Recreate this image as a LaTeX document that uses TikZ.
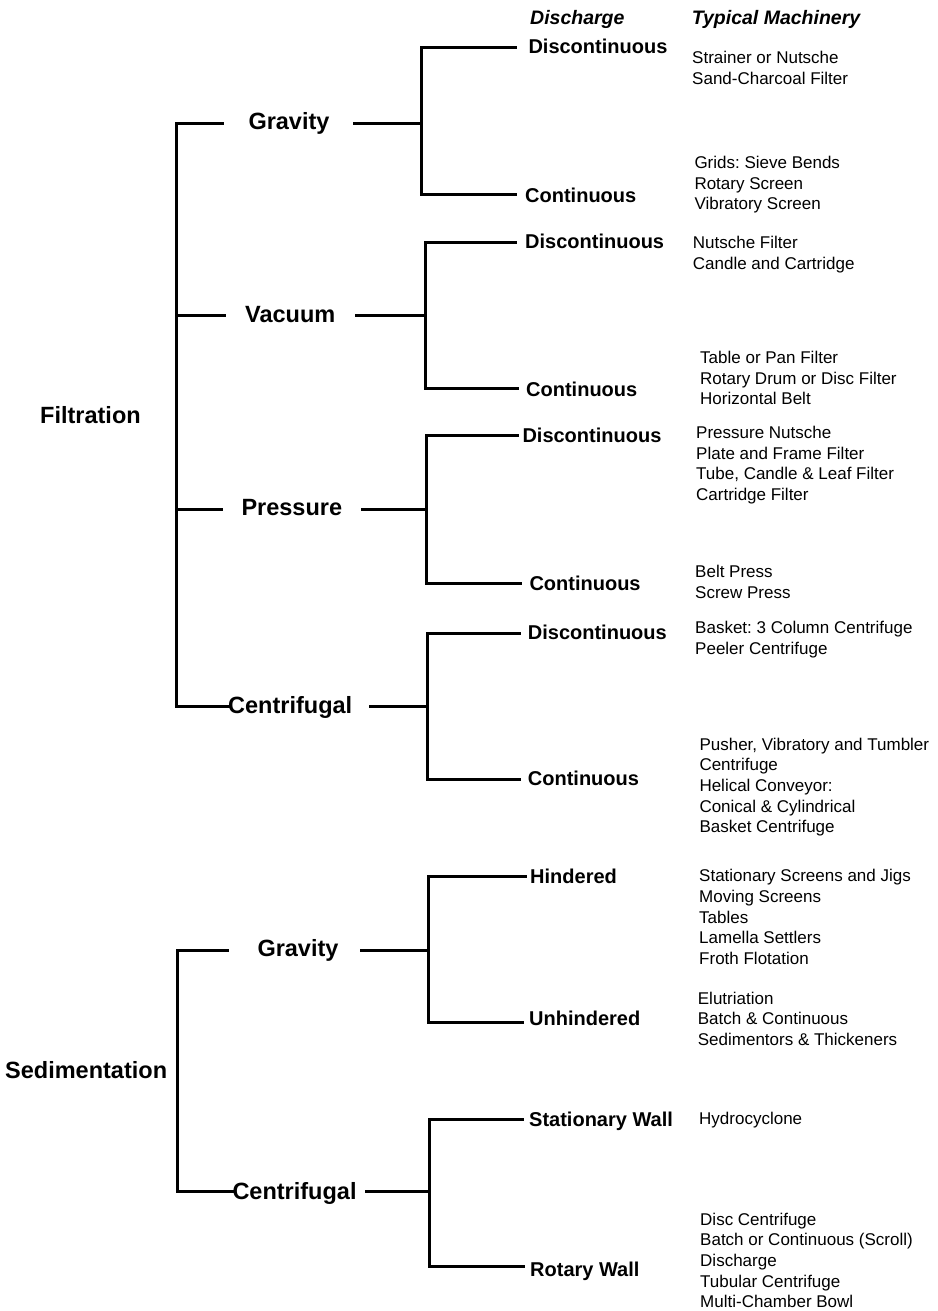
\documentclass[tikz,border=0pt]{standalone}
\usepackage{fontspec}
\setmainfont{Liberation Sans}
\frenchspacing
\tikzset{
  branch/.style={line width=3pt, line cap=rect},
  group/.style={font=\fontsize{23.5}{28}\selectfont\bfseries, inner sep=0pt, anchor=base west},
  mode/.style={font=\fontsize{23.5}{28}\selectfont\bfseries, inner sep=0pt, anchor=base west},
  outlet/.style={font=\fontsize{20}{24}\selectfont\bfseries, inner sep=0pt, anchor=base west},
  heading/.style={font=\fontsize{19.5}{24}\selectfont\bfseries\itshape, inner sep=0pt, anchor=base west},
  machines/.style={font=\fontsize{17}{20.6}\selectfont, inner sep=0pt, anchor=north west, align=left}
}
\begin{document}
\begin{tikzpicture}[x=1pt,y=-1pt]
  \useasboundingbox (0,0) rectangle (937,1311);

  \node[heading] (hd-dis) at (530,25) {Discharge};
  \node[heading] (hd-mach) at (691.7,25) {Typical Machinery};

  \node[group] (filt) at (40,423.3) {Filtration};
  \node[group] (sed) at (5,1078.3) {Sedimentation};

  \node[mode] (fgrav) at (248.3,129.5) {Gravity};
  \node[mode] (fvac) at (245,322.7) {Vacuum};
  \node[mode] (fpres) at (241.3,515) {Pressure};
  \node[mode] (fcent) at (228,713.3) {Centrifugal};
  \node[mode] (sgrav) at (257.3,956.7) {Gravity};
  \node[mode] (scent) at (232.3,1199.3) {Centrifugal};

  \node[outlet] (fgrav-dis) at (528.3,53.3) {Discontinuous};
  \node[outlet] (fgrav-con) at (525,202.7) {Continuous};
  \node[outlet] (fvac-dis) at (525,248.3) {Discontinuous};
  \node[outlet] (fvac-con) at (526,396.7) {Continuous};
  \node[outlet] (fpres-dis) at (522.3,442.7) {Discontinuous};
  \node[outlet] (fpres-con) at (529.3,590.7) {Continuous};
  \node[outlet] (fcent-dis) at (527.7,639) {Discontinuous};
  \node[outlet] (fcent-con) at (527.7,785) {Continuous};
  \node[outlet] (sgrav-hin) at (530,883.3) {Hindered};
  \node[outlet] (sgrav-unh) at (529,1025) {Unhindered};
  \node[outlet] (scent-sta) at (529,1126.7) {Stationary Wall};
  \node[outlet] (scent-rot) at (530,1276) {Rotary Wall};

  \node[machines] (fgrav-dis-m) at (692,51) {Strainer or Nutsche\\Sand-Charcoal Filter};
  \node[machines] (fgrav-con-m) at (694.3,156) {Grids: Sieve Bends\\Rotary Screen\\Vibratory Screen};
  \node[machines] (fvac-dis-m) at (692.7,236) {Nutsche Filter\\Candle and Cartridge};
  \node[machines] (fvac-con-m) at (700,351) {Table or Pan Filter\\Rotary Drum or Disc Filter\\Horizontal Belt};
  \node[machines] (fpres-dis-m) at (696,426) {Pressure Nutsche\\Plate and Frame Filter\\Tube, Candle \& Leaf Filter\\Cartridge Filter};
  \node[machines] (fpres-con-m) at (695,565) {Belt Press\\Screw Press};
  \node[machines] (fcent-dis-m) at (695,621) {Basket: 3 Column Centrifuge\\Peeler Centrifuge};
  \node[machines] (fcent-con-m) at (699.3,737.7) {Pusher, Vibratory and Tumbler\\Centrifuge\\Helical Conveyor:\\Conical \& Cylindrical\\Basket Centrifuge};
  \node[machines] (sgrav-hin-m) at (699,869.4) {Stationary Screens and Jigs\\Moving Screens\\Tables\\Lamella Settlers\\Froth Flotation};
  \node[machines] (sgrav-unh-m) at (697.7,991.7) {Elutriation\\Batch \& Continuous\\Sedimentors \& Thickeners};
  \node[machines] (scent-sta-m) at (699,1111.7) {Hydrocyclone};
  \node[machines] (scent-rot-m) at (700,1212.7) {Disc Centrifuge\\Batch or Continuous (Scroll)\\Discharge\\Tubular Centrifuge\\Multi-Chamber Bowl};

  \coordinate (filt-g) at (176,123.5);
  \coordinate (filt-v) at (176,315.5);
  \coordinate (filt-p) at (176,509);
  \coordinate (filt-c) at (176,706);
  \coordinate (sed-g) at (177,950);
  \coordinate (sed-c) at (177,1191.7);

  \coordinate (fgrav-j) at (421.5,123.5);
  \coordinate (fgrav-a) at (421.5,47.5);
  \coordinate (fgrav-b) at (421.5,194);
  \coordinate (fvac-j) at (425,315.5);
  \coordinate (fvac-a) at (425,242.3);
  \coordinate (fvac-b) at (425,388.5);
  \coordinate (fpres-j) at (426.5,509);
  \coordinate (fpres-a) at (426.5,435);
  \coordinate (fpres-b) at (426.5,583.3);
  \coordinate (fcent-j) at (427,706);
  \coordinate (fcent-a) at (427,633);
  \coordinate (fcent-b) at (427,779);
  \coordinate (sgrav-j) at (428,950);
  \coordinate (sgrav-a) at (428,876);
  \coordinate (sgrav-b) at (428,1022);
  \coordinate (scent-j) at (429,1191.7);
  \coordinate (scent-a) at (429,1119);
  \coordinate (scent-b) at (429,1266);

  \draw[branch] (filt-g) -- (filt-c);
  \draw[branch] (sed-g) -- (sed-c);

  \draw[branch,shorten >=26pt] (filt-g) -- (filt-g -| fgrav.west);
  \draw[branch,shorten >=21pt] (filt-v) -- (filt-v -| fvac.west);
  \draw[branch,shorten >=20pt] (filt-p) -- (filt-p -| fpres.west);
  \draw[branch] (filt-c) -- (filt-c -| fcent.west);
  \draw[branch,shorten >=30pt] (sed-g) -- (sed-g -| sgrav.west);
  \draw[branch] (sed-c) -- (sed-c -| scent.west);

  \draw[branch,shorten <=25pt] (fgrav-j -| fgrav.east) -- (fgrav-j);
  \draw[branch,shorten <=21pt] (fvac-j -| fvac.east) -- (fvac-j);
  \draw[branch,shorten <=20pt] (fpres-j -| fpres.east) -- (fpres-j);
  \draw[branch,shorten <=18pt] (fcent-j -| fcent.east) -- (fcent-j);
  \draw[branch,shorten <=23pt] (sgrav-j -| sgrav.east) -- (sgrav-j);
  \draw[branch,shorten <=10pt] (scent-j -| scent.east) -- (scent-j);

  \draw[branch] (fgrav-a) -- (fgrav-b);
  \draw[branch] (fvac-a) -- (fvac-b);
  \draw[branch] (fpres-a) -- (fpres-b);
  \draw[branch] (fcent-a) -- (fcent-b);
  \draw[branch] (sgrav-a) -- (sgrav-b);
  \draw[branch] (scent-a) -- (scent-b);

  \draw[branch,shorten >=13pt] (fgrav-a) -- (fgrav-a -| fgrav-dis.west);
  \draw[branch,shorten >=10pt] (fgrav-b) -- (fgrav-b -| fgrav-con.west);
  \draw[branch,shorten >=10pt] (fvac-a) -- (fvac-a -| fvac-dis.west);
  \draw[branch,shorten >=9pt] (fvac-b) -- (fvac-b -| fvac-con.west);
  \draw[branch,shorten >=5pt] (fpres-a) -- (fpres-a -| fpres-dis.west);
  \draw[branch,shorten >=9pt] (fpres-b) -- (fpres-b -| fpres-con.west);
  \draw[branch,shorten >=8pt] (fcent-a) -- (fcent-a -| fcent-dis.west);
  \draw[branch,shorten >=8pt] (fcent-b) -- (fcent-b -| fcent-con.west);
  \draw[branch,shorten >=5pt] (sgrav-a) -- (sgrav-a -| sgrav-hin.west);
  \draw[branch,shorten >=7pt] (sgrav-b) -- (sgrav-b -| sgrav-unh.west);
  \draw[branch,shorten >=7pt] (scent-a) -- (scent-a -| scent-sta.west);
  \draw[branch,shorten >=7pt] (scent-b) -- (scent-b -| scent-rot.west);
\end{tikzpicture}
\end{document}
